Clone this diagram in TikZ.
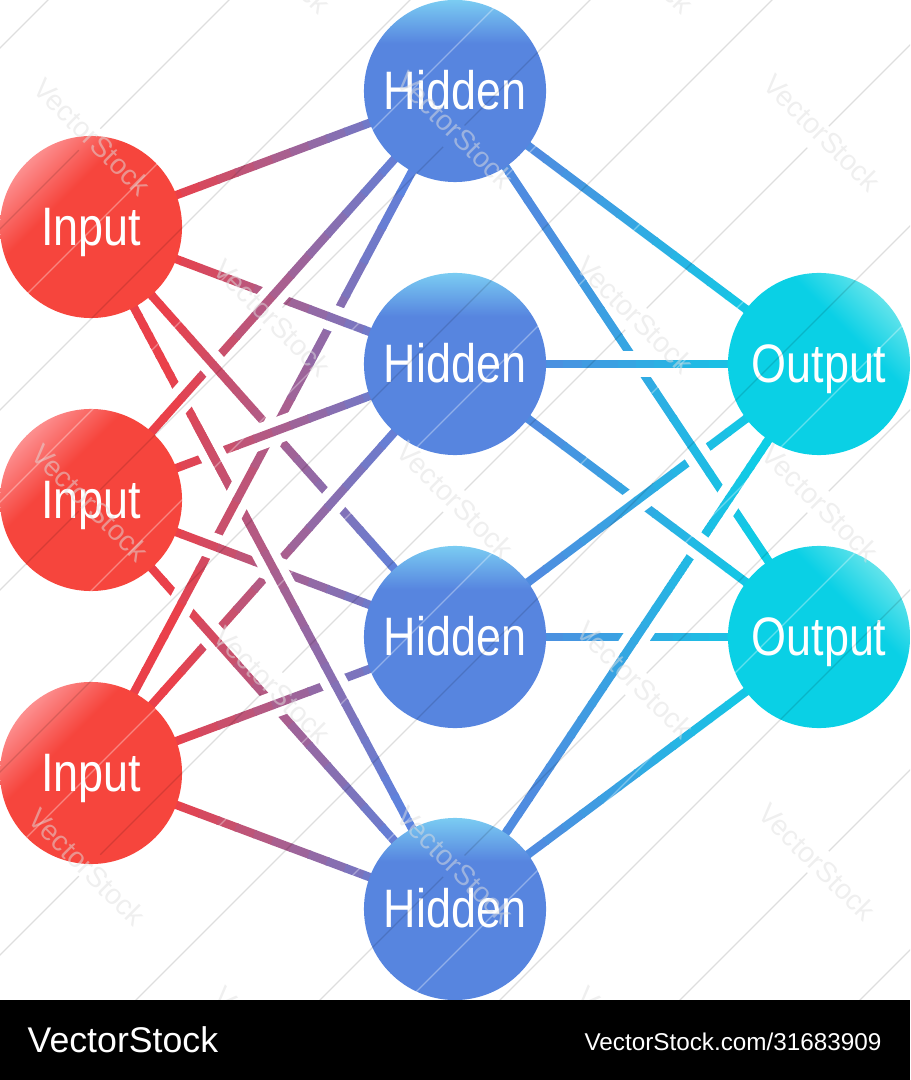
\documentclass[tikz,border=0pt]{standalone}
\usepackage{fontspec}
\setmainfont[FakeStretch=.83]{Liberation Sans}
\newfontfamily\footerfont{Liberation Sans}
\usetikzlibrary{calc,backgrounds}

\definecolor{inred}{HTML}{EA404A}
\definecolor{midblue}{HTML}{5B84E0}
\definecolor{startblue}{HTML}{4F8CE0}
\definecolor{outcyan}{HTML}{0CCFE6}

\pgfdeclareverticalshading{inputball}{100bp}{rgb(0bp)=(.965,.27,.24); rgb(61bp)=(.965,.27,.24); rgb(75bp)=(.99,.56,.56); rgb(100bp)=(.99,.56,.56)}
\pgfdeclareverticalshading{hiddenball}{100bp}{rgb(0bp)=(.34,.52,.875); rgb(63bp)=(.34,.52,.875); rgb(75bp)=(.48,.8,.95); rgb(100bp)=(.48,.8,.95)}
\pgfdeclareverticalshading{outputball}{100bp}{rgb(0bp)=(.04,.815,.9); rgb(62bp)=(.04,.815,.9); rgb(75bp)=(.38,.89,.92); rgb(100bp)=(.38,.89,.92)}

% one stretch of a connector: white casing, then small steps of colour
\newcommand{\wirepart}[6]{
    \draw[casing] ($(#1)!#5!(#2)$) -- ($(#1)!#6!(#2)$);
    \foreach \k in {1,...,20} {
        \pgfmathsetmacro\ta{#5+(#6-#5)*(\k-1)/20-.002}
        \pgfmathsetmacro\tb{#5+(#6-#5)*\k/20+.002}
        \pgfmathsetmacro\mixp{max(0,min(100,(.85-\ta)/.65*100))}
        \draw[wire,#3!\mixp!#4] ($(#1)!\ta!(#2)$) -- ($(#1)!\tb!(#2)$);
    }
}

\begin{document}
\begin{tikzpicture}[x=.01cm,y=-.01cm]
    \tikzstyle{ball}=[circle,inner sep=0pt,minimum size=1.82cm,text=white,text height=.37cm,text depth=0pt,font=\fontsize{15.4}{18}\selectfont]
    \tikzstyle{inputnode}=[ball,shading=inputball,shading angle=45]
    \tikzstyle{hiddennode}=[ball,shading=hiddenball]
    \tikzstyle{outputnode}=[ball,shading=outputball,shading angle=-45]
    \tikzstyle{casing}=[white,line width=.26cm]
    \tikzstyle{wire}=[line width=.085cm]
    \tikzstyle{markline}=[black,opacity=.13,line width=.35pt]
    \tikzstyle{glossline}=[white,opacity=.35,line width=.35pt]
    \tikzstyle{marktext}=[rotate=-45,inner sep=0pt,text=gray!25,opacity=.5,font=\footerfont\fontsize{8.1}{10}\selectfont]

    \useasboundingbox (0,0) rectangle (910,1080);

    \node[inputnode] (i1) at (91,227) {Input};
    \node[inputnode] (i2) at (91,500) {Input};
    \node[inputnode] (i3) at (91,773) {Input};
    \node[hiddennode] (h1) at (455,91) {Hidden};
    \node[hiddennode] (h2) at (455,364) {Hidden};
    \node[hiddennode] (h3) at (455,637) {Hidden};
    \node[hiddennode] (h4) at (455,909) {Hidden};
    \node[outputnode] (o1) at (819,364) {Output};
    \node[outputnode] (o2) at (819,637) {Output};

    \begin{scope}[on background layer]
        % the weave is cyclic, so some connectors come in stretches
        \foreach \a/\b/\s/\e in {i1/h4/0/.29, i1/h4/.366/.45, i1/h3/.42/1, i3/h2/0/1, i2/h4/0/1,
                i3/h1/0/1, i2/h3/0/1, i3/h3/0/1, i1/h2/0/1, i2/h1/0/1, i1/h3/0/.42, i2/h2/0/1,
                i1/h4/.29/.366, i1/h4/.45/1, i1/h1/0/1, i3/h4/0/1}
            \wirepart{\a}{\b}{inred}{midblue}{\s}{\e};
        \foreach \a/\b/\s/\e in {h4/o1/.58/.71, h2/o2/0/1, h3/o1/0/1, h1/o2/0/1, h4/o1/.71/1,
                h2/o1/0/1, h3/o2/0/1, h4/o1/0/.58, h1/o1/0/1, h4/o2/0/1}
            \wirepart{\a}{\b}{startblue}{outcyan}{\s}{\e};
    \end{scope}

    % watermark
    \begin{scope}
        \clip (0,0) rectangle (910,1000);
        \foreach \S in {229,590,955,1320,1680}
            \draw[markline,dash pattern=on 2.27cm off .304cm] ({1000-10.6},{\S-989.4}) -- (-100,{\S+100});
        \foreach \S in {48,410,772,1136,1500,1860}
            \draw[markline] ({\S+100},-100) -- (-100,{\S+100});
        \foreach \S in {321,502,682,864,1045,1228,1408,1590,1770}
            \draw[glossline] ({\S+100},-100) -- (-100,{\S+100});
        \foreach \x/\y [count=\n] in {92/137,455/130,822/133,272/318,635/315,90/503,455/500,820/503,
                272/685,635/680,87/867,455/865,817/862,272/-45,635/-45,272/1045,635/1045}
            \node[marktext] (mark\n) at (\x,\y) {VectorStock};
    \end{scope}

    \fill[black] (0,1000) rectangle (910,1080);
    \node[anchor=base west,inner sep=0pt,text=white,font=\footerfont\fontsize{10.15}{12}\selectfont] (brand) at (27,1052) {VectorStock};
    \node[anchor=base east,inner sep=0pt,text=white,font=\footerfont\fontsize{6.9}{9}\selectfont] (stockid) at (882,1050) {VectorStock.com/31683909};
\end{tikzpicture}
\end{document}
